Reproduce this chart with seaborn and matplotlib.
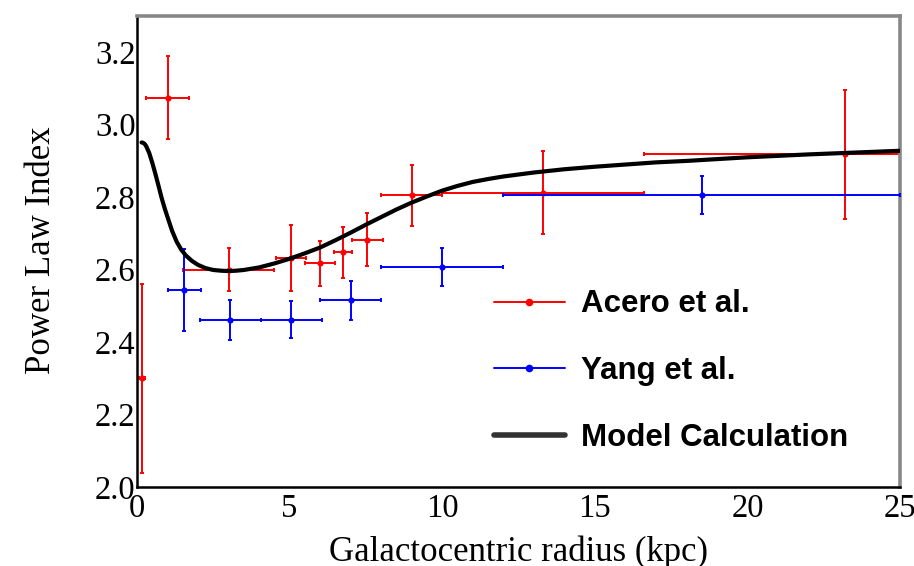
import matplotlib
matplotlib.use("Agg")
import matplotlib.pyplot as plt
from matplotlib.ticker import MultipleLocator, FormatStrFormatter
from matplotlib.lines import Line2D
import pandas as pd
import seaborn as sns

# Acero et al. measurements
acero_r = [0.15, 1.0, 3.0, 5.05, 6.0, 6.75, 7.55, 9.0, 13.3, 23.2]
acero_idx = [2.30, 3.075, 2.60, 2.632, 2.618, 2.648, 2.683, 2.805, 2.812, 2.918]
acero_rerr = [0.1, 0.7, 1.5, 0.5, 0.5, 0.3, 0.5, 1.0, 3.3, 6.6]
acero_ierr = [0.26, 0.115, 0.06, 0.09, 0.062, 0.07, 0.072, 0.085, 0.115, 0.178]

# Yang et al. measurements
yang_r = [1.55, 3.05, 5.05, 7.0, 10.0, 18.5]
yang_idx = [2.543, 2.46, 2.462, 2.515, 2.607, 2.806]
yang_rerr = [0.55, 1.0, 1.0, 1.0, 2.0, 6.5]
yang_ierr = [0.113, 0.055, 0.05, 0.053, 0.052, 0.053]

# Model calculation
model_r = [0.15, 0.2, 0.25, 0.3, 0.4, 0.5, 0.6, 0.7, 0.8, 0.9, 1.0, 1.15,
           1.3, 1.45, 1.6, 1.8, 2.0, 2.25, 2.5, 2.75, 3.0, 3.25, 3.5, 4.0,
           4.5, 5.0, 5.5, 6.0, 6.5, 7.0, 7.5, 8.0, 8.5, 9.0, 9.5, 10.0, 10.5,
           11.0, 11.5, 12.0, 13.0, 14.0, 15.0, 16.0, 17.0, 18.0, 20.0, 22.0,
           25.0]
model_idx = [2.951, 2.950, 2.947, 2.941, 2.922, 2.895, 2.865, 2.833, 2.800,
             2.771, 2.745, 2.707, 2.677, 2.655, 2.639, 2.624, 2.613, 2.604,
             2.599, 2.597, 2.596, 2.597, 2.599, 2.606, 2.617, 2.630, 2.645,
             2.661, 2.681, 2.702, 2.724, 2.745, 2.766, 2.785, 2.802, 2.818,
             2.831, 2.842, 2.850, 2.857, 2.868, 2.877, 2.884, 2.890, 2.896,
             2.900, 2.910, 2.918, 2.928]

sns.set_theme(style="white")
plt.rcParams["font.family"] = ["Liberation Serif", "DejaVu Serif"]
plt.rcParams["text.color"] = "black"
plt.rcParams["axes.labelcolor"] = "black"

fig = plt.figure(figsize=(9.14, 5.66), dpi=100)
ax = fig.add_axes([137 / 914, 1 - 487 / 566, 763 / 914, 471 / 566])

acero = pd.DataFrame({"r": acero_r, "idx": acero_idx})
yang = pd.DataFrame({"r": yang_r, "idx": yang_idx})
model = pd.DataFrame({"r": model_r, "idx": model_idx})

red = "#ff0000"
blue = "#0000ff"

ax.errorbar(acero_r, acero_idx, xerr=acero_rerr, yerr=acero_ierr, fmt="none",
            ecolor=red, elinewidth=1.4, capsize=1.5, capthick=1.4, zorder=2)
sns.scatterplot(data=acero, x="r", y="idx", color=red, s=20, linewidth=0,
                ax=ax, zorder=3)
ax.errorbar(yang_r, yang_idx, xerr=yang_rerr, yerr=yang_ierr, fmt="none",
            ecolor=blue, elinewidth=1.4, capsize=1.5, capthick=1.4, zorder=4)
sns.scatterplot(data=yang, x="r", y="idx", color=blue, s=20, linewidth=0,
                ax=ax, zorder=5)
sns.lineplot(data=model, x="r", y="idx", color="black", linewidth=3.0,
             ax=ax, zorder=6, solid_joinstyle="round", solid_capstyle="round")

ax.set_xlim(0, 25)
ax.set_ylim(2.0, 3.3)

ax.xaxis.set_major_locator(MultipleLocator(5))
ax.xaxis.set_minor_locator(MultipleLocator(1))
ax.yaxis.set_major_locator(MultipleLocator(0.2))
ax.yaxis.set_minor_locator(MultipleLocator(0.05))
ax.xaxis.set_major_formatter(FormatStrFormatter("%d"))
ax.yaxis.set_major_formatter(FormatStrFormatter("%.1f"))

ax.tick_params(axis="both", which="both", direction="in", labelsize=23.5,
               top=False, right=False, labelcolor="black")
ax.tick_params(axis="y", which="major", length=16.5, width=1.6, color="black", pad=1)
ax.tick_params(axis="y", which="minor", length=8.5, width=1.4, color="#555555")
ax.tick_params(axis="x", which="major", length=9.5, width=1.6, color="black", pad=5)
ax.tick_params(axis="x", which="minor", length=4.5, width=1.4, color="#555555")

for side in ("left", "bottom"):
    ax.spines[side].set_color("black")
    ax.spines[side].set_linewidth(1.8)
for side in ("top", "right"):
    ax.spines[side].set_visible(True)
    ax.spines[side].set_color("#888888")
    ax.spines[side].set_linewidth(2.6)

ax.set_xlabel("Galactocentric radius (kpc)", fontsize=25)
ax.set_ylabel("Power Law Index", fontsize=25)
ax.xaxis.set_label_coords(0.5, -0.102)
ax.yaxis.set_label_coords(-0.104, 0.503)

handles = [
    Line2D([], [], color=red, linewidth=1.4, marker="o", markersize=4.5),
    Line2D([], [], color=blue, linewidth=1.4, marker="o", markersize=4.5),
    Line2D([], [], color="#333333", linewidth=4.0),
]
labels = ["Acero et al.", "Yang et al.", "Model Calculation"]
leg = ax.legend(handles, labels, loc="upper left",
                bbox_to_anchor=(481 / 914, 1 - 277 / 566),
                bbox_transform=fig.transFigure, frameon=False,
                handlelength=2.3, handletextpad=0.5, labelspacing=1.17,
                borderaxespad=0,
                prop={"family": "Liberation Sans", "weight": "bold", "size": 22.5})
for t in leg.get_texts():
    t.set_color("black")

fig.savefig("out.png", dpi=100)
